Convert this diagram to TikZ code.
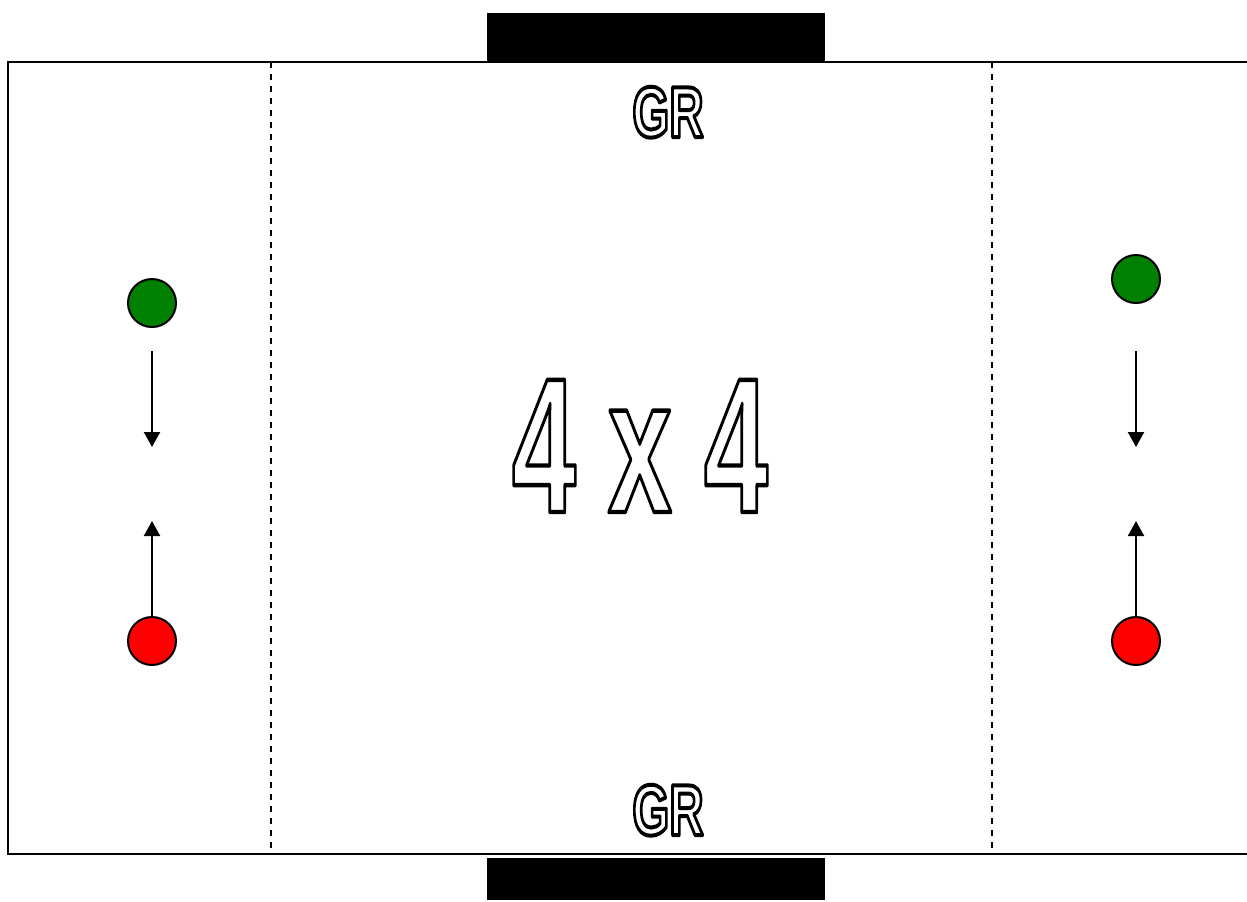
\documentclass[tikz,border=0pt]{standalone}
\usepackage{graphicx}
\usepackage{fontspec}
\setmainfont{Liberation Sans}
\usetikzlibrary{arrows.meta}
\definecolor{pgreen}{HTML}{008000}
\definecolor{pred}{HTML}{FF0000}
\newcommand{\outlinedlabel}[6]{% #1 name, #2 coordinate, #3 x scale, #4 font size, #5 stroke, #6 text
  \node[outl] (#1) at (#2) {\scalebox{#3}[1]{\fontsize{#4}{#4}\selectfont\bfseries\color{white}\special{pdf:literal 0 G 2 Tr #5 w 1 j}#6\special{pdf:literal 0 Tr}}};}
\begin{document}
\begin{tikzpicture}[x=0.5pt, y=-0.5pt,
  outl/.style={anchor=base, inner sep=0pt},
  border/.style={line width=1pt, black},
  halfway/.style={line width=0.8pt, black, dash pattern=on 3pt off 3pt},
  goal/.style={fill=black, draw=none},
  player/.style={circle, draw=black, line width=1pt, minimum size=24pt, inner sep=0pt},
  move/.style={line width=1.1pt, -{Triangle[length=7.5pt, width=8pt]}}]
\useasboundingbox (0,0) rectangle (1247,901);
% goals
\fill[goal] (487,13) rectangle (825,62);
\fill[goal] (487,858) rectangle (825,900);
% field
\draw[border] (1260,62) -- (8,62) -- (8,854) -- (1260,854);
\draw[halfway] (271,62) -- (271,854);
\draw[halfway] (992,62) -- (992,854);
% labels
\coordinate (grtop) at (668,137);
\coordinate (grbot) at (668,835);
\coordinate (mid) at (640,512);
\outlinedlabel{grt}{grtop}{0.66}{36}{2}{GR}
\outlinedlabel{grb}{grbot}{0.66}{36}{2}{GR}
\outlinedlabel{title}{mid}{0.6}{96}{2.2}{4 x 4}
% players
\node[player, fill=pgreen] (g1) at (152,303) {};
\node[player, fill=pred] (r1) at (152,641) {};
\node[player, fill=pgreen] (g2) at (1136,279) {};
\node[player, fill=pred] (r2) at (1136,641) {};
% movement arrows
\coordinate (d1s) at (152,351);
\coordinate (d1e) at (152,447);
\coordinate (u1e) at (152,521);
\coordinate (d2s) at (1136,351);
\coordinate (d2e) at (1136,447);
\coordinate (u2e) at (1136,521);
\draw[move] (d1s) -- (d1e);
\draw[move] (r1.north) -- (u1e);
\draw[move] (d2s) -- (d2e);
\draw[move] (r2.north) -- (u2e);
\end{tikzpicture}
\end{document}
